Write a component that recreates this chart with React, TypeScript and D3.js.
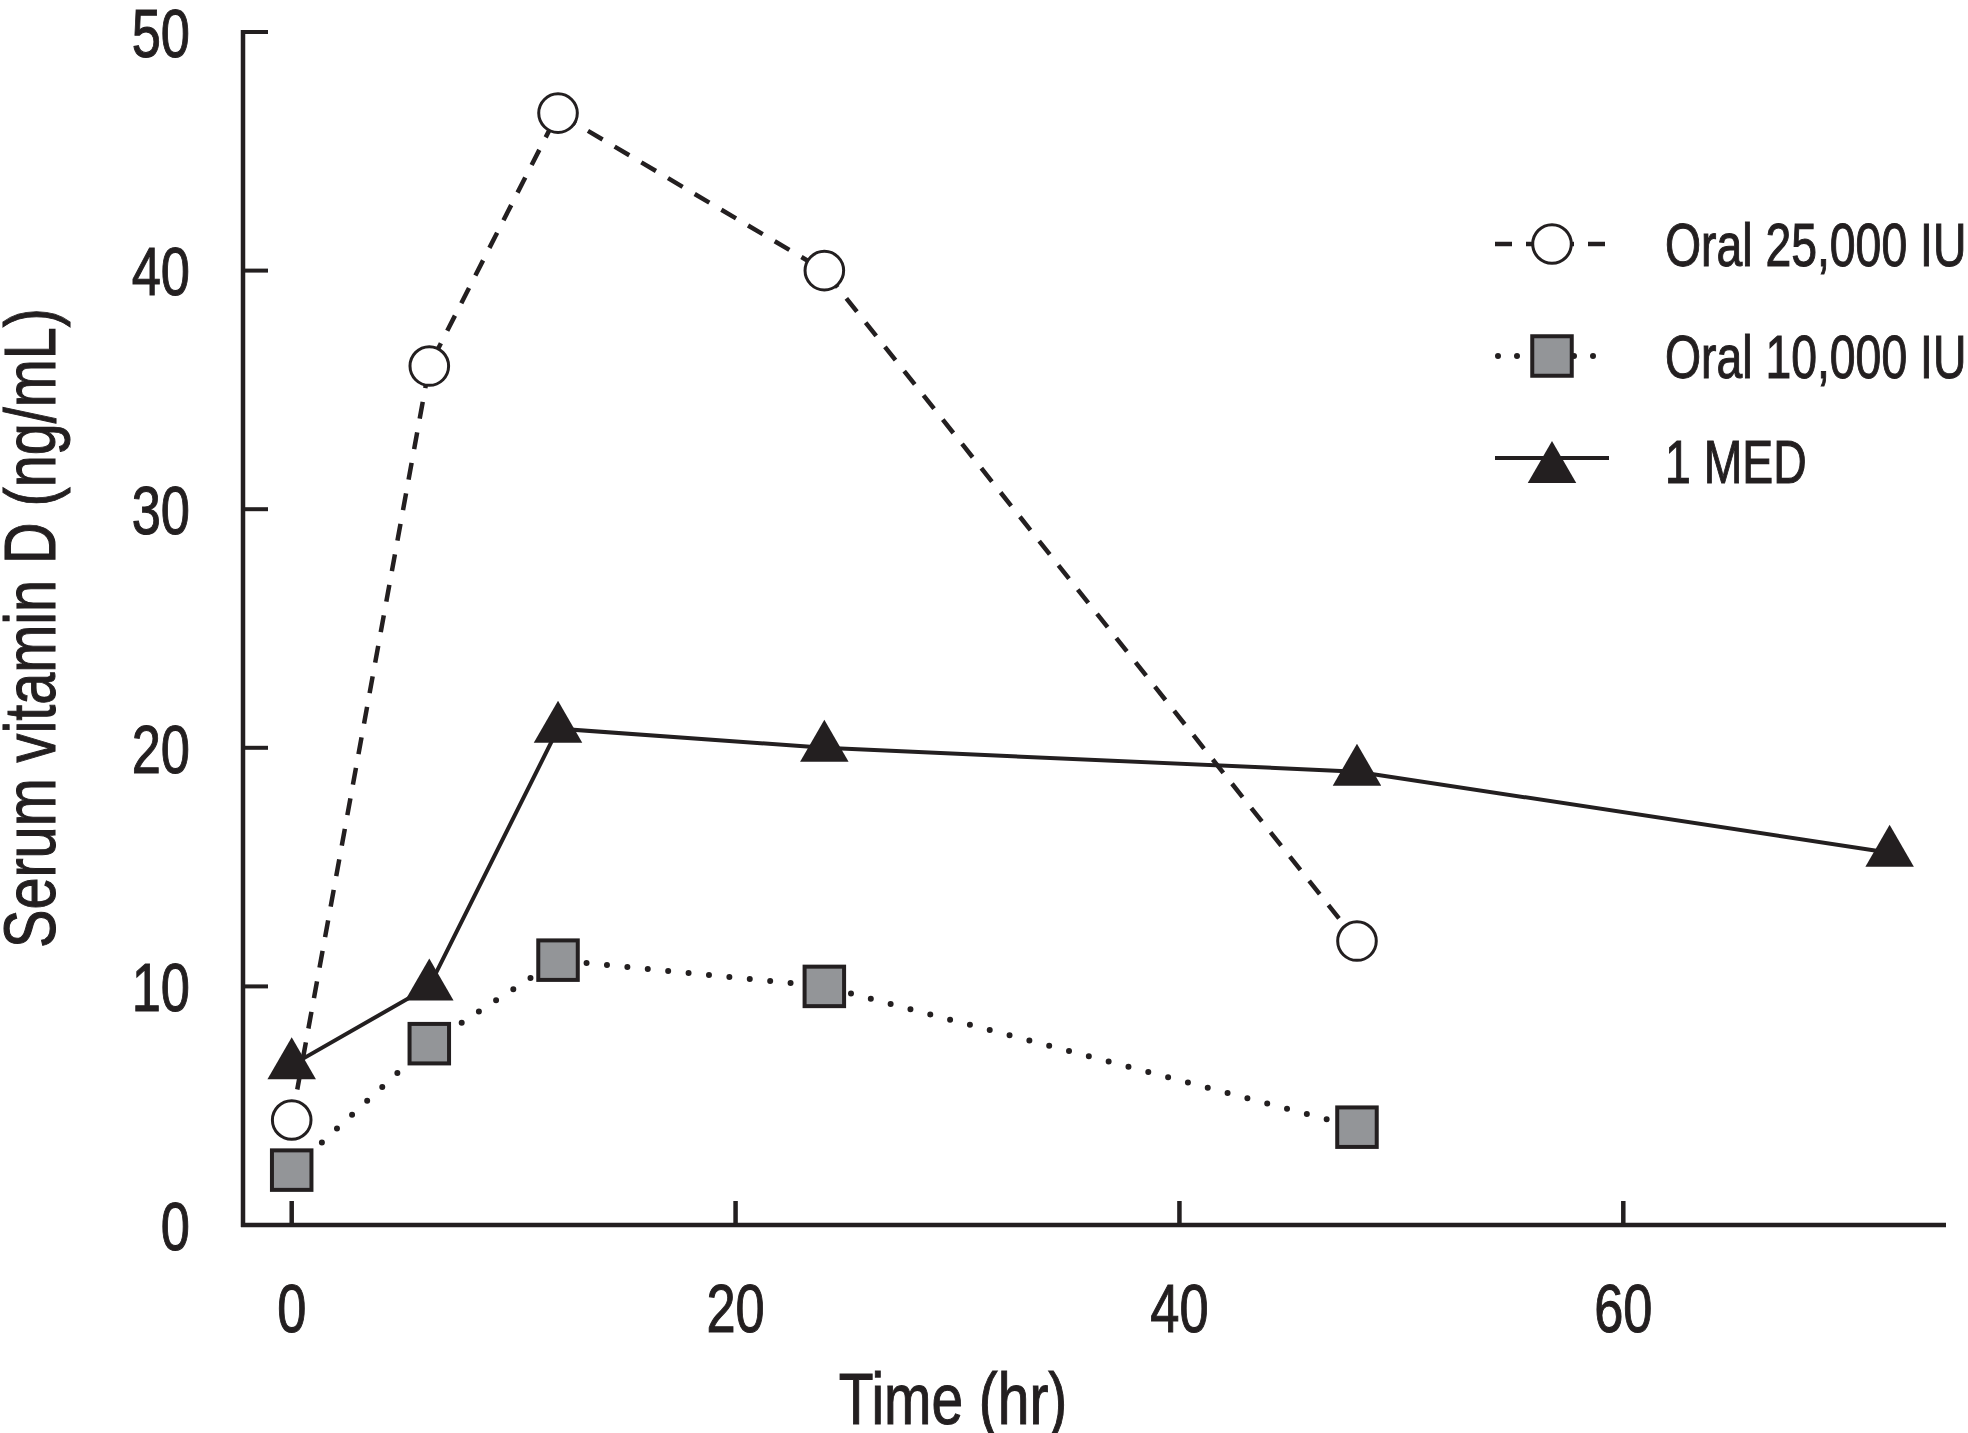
import React, { useEffect, useRef } from "react";
import * as d3 from "d3";

// values
const hours = [0, 6.2, 12, 24, 48];
const medHours = [0, 6.2, 12, 24, 48, 72];
const oral25000 = [4.4, 36.0, 46.6, 40.0, 11.9];
const oral10000 = [2.3, 7.6, 11.1, 10.0, 4.1];
const med1 = [6.7, 10.0, 20.8, 20.0, 19.0, 15.6];

const xTicks = [0, 20, 40, 60];
const yTicks = [0, 10, 20, 30, 40, 50];
const seriesNames = ["Oral 25,000 IU", "Oral 10,000 IU", "1 MED"];

const INK = "#231f20";
const GREY = "#939598";
// no narrow face installed, so Arial-metric Liberation Sans gets squeezed with scaleX
const FONT = "'Liberation Sans', Arial, sans-serif";

const App = () => {
  const chartRef = useRef<SVGSVGElement | null>(null);

  useEffect(() => {
    const svg = d3.select(chartRef.current);
    svg.selectAll("*").remove();

    const x = d3.scaleLinear().domain([0, 60]).range([291.7, 1623.3]);
    const y = d3.scaleLinear().domain([0, 50]).range([1225, 32]);
    const left = 243;
    const right = 1946;

    // a thin stroke gives the squeezed glyphs the weight of the original face
    const label = (
      tx: number,
      ty: number,
      str: string,
      size: number,
      anchor: string,
      sx: number,
      rot = 0
    ) =>
      svg
        .append("text")
        .attr("transform", `translate(${tx},${ty}) rotate(${rot}) scale(${sx},1)`)
        .attr("text-anchor", anchor)
        .attr("font-size", size)
        .attr("font-family", FONT)
        .attr("fill", INK)
        .attr("stroke", INK)
        .attr("stroke-width", 1.1)
        .text(str);

    // axes
    const axes = svg.append("g").attr("stroke", INK).attr("fill", "none");
    axes
      .append("line")
      .attr("x1", left)
      .attr("x2", left)
      .attr("y1", y(50) - 2)
      .attr("y2", y(0) + 2)
      .attr("stroke-width", 4.5);
    axes
      .append("line")
      .attr("x1", left - 2)
      .attr("x2", right)
      .attr("y1", y(0))
      .attr("y2", y(0))
      .attr("stroke-width", 4.5);

    axes
      .selectAll(".ytick")
      .data(yTicks)
      .join("line")
      .attr("x1", left)
      .attr("x2", left + 25)
      .attr("y1", (d) => y(d))
      .attr("y2", (d) => y(d))
      .attr("stroke-width", 4);

    axes
      .selectAll(".xtick")
      .data(xTicks)
      .join("line")
      .attr("x1", (d) => x(d))
      .attr("x2", (d) => x(d))
      .attr("y1", y(0))
      .attr("y2", y(0) - 24)
      .attr("stroke-width", 4.5);

    yTicks.forEach((t) => label(190, y(t) + 0.36 * 69, String(t), 69, "end", 0.76));
    xTicks.forEach((t) => label(x(t), 1332, String(t), 69, "middle", 0.76));

    label(953, 1424, "Time (hr)", 72, "middle", 0.79);
    label(55, 628, "Serum vitamin D (ng/mL)", 72, "middle", 0.8, -90);

    // lines
    const line = (xs: number[]) =>
      d3
        .line<number>()
        .x((_, i) => x(xs[i]))
        .y((d) => y(d));

    const lines = svg.append("g").attr("fill", "none").attr("stroke", INK);
    lines
      .append("path")
      .attr("d", line(medHours)(med1))
      .attr("stroke-width", 4);
    lines
      .append("path")
      .attr("d", line(hours)(oral10000))
      .attr("stroke-width", 6)
      .attr("stroke-linecap", "round")
      .attr("stroke-dasharray", "0 20.5");
    lines
      .append("path")
      .attr("d", line(hours)(oral25000))
      .attr("stroke-width", 4.5)
      .attr("stroke-dasharray", "17 14");

    // markers
    const tri = d3.symbol(d3.symbolTriangle, 1018)();
    const sq = 39.5;

    const drawTri = (g: any, cx: number, cy: number) =>
      g.append("path").attr("d", tri).attr("transform", `translate(${cx},${cy})`).attr("fill", INK);
    const drawSq = (g: any, cx: number, cy: number) =>
      g
        .append("rect")
        .attr("x", cx - sq / 2)
        .attr("y", cy - sq / 2)
        .attr("width", sq)
        .attr("height", sq)
        .attr("fill", GREY)
        .attr("stroke", INK)
        .attr("stroke-width", 4);
    const drawCirc = (g: any, cx: number, cy: number) =>
      g
        .append("circle")
        .attr("cx", cx)
        .attr("cy", cy)
        .attr("r", 19.3)
        .attr("fill", "#fff")
        .attr("stroke", INK)
        .attr("stroke-width", 3);

    const marks = svg.append("g");
    med1.forEach((v, i) => drawTri(marks, x(medHours[i]), y(v)));
    oral10000.forEach((v, i) => drawSq(marks, x(hours[i]), y(v)));
    oral25000.forEach((v, i) => drawCirc(marks, x(hours[i]), y(v)));

    // legend
    const lg = svg.append("g");
    const rows = [244, 356, 461];
    const lx1 = 1495;
    const lx2 = 1609;
    const lcx = 1552;

    lg.append("line")
      .attr("x1", lx1).attr("x2", lx2).attr("y1", rows[0]).attr("y2", rows[0])
      .attr("stroke", INK).attr("stroke-width", 4.5).attr("stroke-dasharray", "17 14");
    drawCirc(lg, lcx, rows[0]);

    lg.append("line")
      .attr("x1", lx1 + 3).attr("x2", lx2).attr("y1", rows[1]).attr("y2", rows[1])
      .attr("stroke", INK).attr("stroke-width", 6).attr("stroke-linecap", "round")
      .attr("stroke-dasharray", "0 19");
    drawSq(lg, lcx, rows[1]);

    lg.append("line")
      .attr("x1", lx1).attr("x2", lx2).attr("y1", rows[2] - 3).attr("y2", rows[2] - 3)
      .attr("stroke", INK).attr("stroke-width", 4);
    drawTri(lg, lcx, rows[2] + 8);

    seriesNames.forEach((s, i) => label(1665, rows[i] + 0.36 * 61, s, 61, "start", 0.76));
  }, []);

  return (
    <svg
      ref={chartRef}
      width={1968}
      height={1433}
      style={{ position: "absolute", left: 0, top: 0, background: "#fff" }}
    ></svg>
  );
};

export default App;
